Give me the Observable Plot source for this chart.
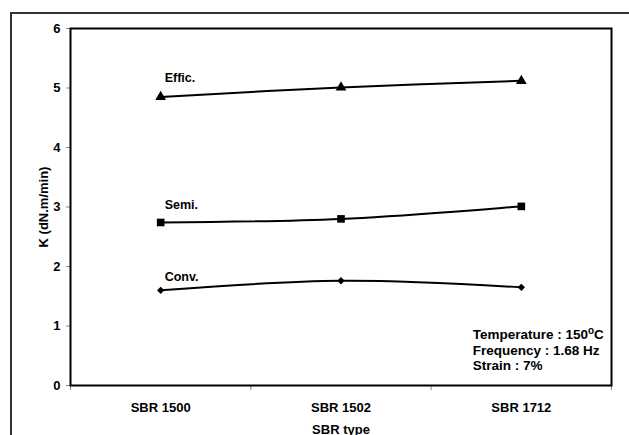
<!DOCTYPE html>
<html>
<head>
<meta charset="utf-8">
<script src="https://cdn.jsdelivr.net/npm/d3@7"></script>
<script src="https://cdn.jsdelivr.net/npm/@observablehq/plot@0.6"></script>
<style>
  html, body { margin: 0; padding: 0; background: #fff; }
  #wrap { position: relative; width: 629px; height: 435px; overflow: hidden; }
  #border { position: absolute; left: 10px; top: 12px; width: 700px; height: 500px;
            border-left: 2px solid #333; border-top: 2px solid #333; pointer-events: none; }
  svg { font-family: "Liberation Sans", Arial, sans-serif; }
</style>
</head>
<body>
<div id="wrap"><div id="border"></div></div>
<script>
// ---- data ----
const categories = ["SBR 1500", "SBR 1502", "SBR 1712"];
const seriesNames = ["Effic.", "Semi.", "Conv."];
const efficValues = [4.85, 5.01, 5.12];
const semiValues = [2.74, 2.80, 3.01];
const convValues = [1.60, 1.76, 1.65];
const seriesSymbols = ["triangle", "square", "diamond2"];
const seriesLabelY = [5.16, 3.03, 1.82];
const yTicks = [0, 1, 2, 3, 4, 5, 6];
const notes = ["Temperature : 150oC", "Frequency : 1.68 Hz", "Strain : 7%"];
const noteY = [0.86, 0.59, 0.33];
const noteX = 2.23;

const seriesValues = [efficValues, semiValues, convValues];
const rows = [];
seriesNames.forEach((s, si) => {
  categories.forEach((c, ci) => {
    rows.push({series: s, pos: ci + 0.5, value: seriesValues[si][ci], symbol: seriesSymbols[si]});
  });
});
const labels = seriesNames.map((s, i) => ({series: s, pos: 0.5, y: seriesLabelY[i]}));
const noteRows = notes.map((t, i) => ({text: t, y: noteY[i]}));

const font = "Liberation Sans, Arial, sans-serif";

const chart = Plot.plot({
  width: 629,
  height: 435,
  marginLeft: 70,
  marginRight: 18,
  marginTop: 28,
  marginBottom: 50,
  style: {fontFamily: font, fontWeight: "bold", fontSize: "13px", background: "transparent", color: "#000"},
  x: {type: "linear", domain: [0, categories.length]},
  y: {domain: [0, 6]},
  symbol: {domain: seriesSymbols, range: seriesSymbols},
  marks: [
    Plot.axisY({ticks: yTicks, tickFormat: "d", tickSize: 4, tickPadding: 6, stroke: "#888", fill: "#000",
      label: "K (dN.m/min)", labelAnchor: "center", labelArrow: "none", labelOffset: 32, fontSize: 13, fontWeight: "bold"}),
    Plot.axisX({ticks: d3.range(categories.length + 1), tickSize: 5, tickFormat: () => "", stroke: "#888", label: null}),
    Plot.axisX({ticks: categories.map((c, i) => i + 0.5), tickSize: 0, tickPadding: 17,
      tickFormat: v => categories[Math.round(v - 0.5)], fill: "#000",
      label: "SBR type", labelAnchor: "center", labelArrow: "none", labelOffset: 48, fontSize: 13, fontWeight: "bold"}),
    Plot.frame({stroke: "#000", strokeWidth: 2}),
    Plot.line(rows, {x: "pos", y: "value", z: "series", stroke: "#000", strokeWidth: 2, curve: "catmull-rom"}),
    Plot.dot(rows.filter(d => d.symbol === "triangle"), {x: "pos", y: "value", symbol: "symbol", fill: "#000", r: 4}),
    Plot.dot(rows.filter(d => d.symbol === "square"), {x: "pos", y: "value", symbol: "symbol", fill: "#000", r: 4.3}),
    Plot.dot(rows.filter(d => d.symbol === "diamond2"), {x: "pos", y: "value", symbol: "symbol", fill: "#000", r: 3.3}),
    Plot.text(labels, {x: "pos", y: "y", text: "series", textAnchor: "start", dx: 4, fontSize: 12.5, fontWeight: "bold", fill: "#000"}),
    Plot.text(noteRows, {x: () => noteX, y: "y", text: "text", textAnchor: "start", fontSize: 13.5, fontWeight: "bold", fill: "#000"})
  ]
});
document.getElementById("wrap").prepend(chart);

// superscript "o" in the temperature note
d3.select(chart).selectAll("text").each(function() {
  const t = this.textContent;
  if (t === notes[0]) {
    const el = d3.select(this);
    el.text(null);
    el.append("tspan").text("Temperature : 150");
    el.append("tspan").attr("dy", "-5").attr("font-size", "10").text("o");
    el.append("tspan").attr("dy", "5").text("C");
  }
});
</script>
</body>
</html>
